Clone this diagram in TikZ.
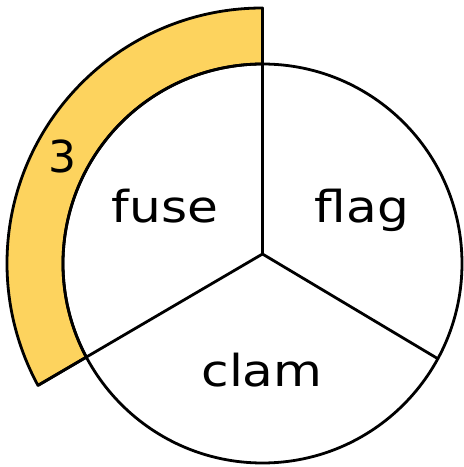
\documentclass[tikz,border=0pt]{standalone}
\usepackage{fontspec}
\setmainfont{DejaVu Sans}
\usetikzlibrary{calc}
\definecolor{bandyellow}{HTML}{FDD35E}
\begin{document}
\begin{tikzpicture}[x=1pt,y=1pt,
  edge/.style={draw=black,line width=2.8pt,line join=round},
  lbl/.style={anchor=base,inner sep=0pt,font=\fontsize{44}{44}\selectfont}]
\useasboundingbox (0,0) rectangle (464,467);
\coordinate (C) at (262.5,203.5);
\coordinate (H) at (262.5,213);
% yellow band
\path[edge,fill=bandyellow] ($(C)+(90:255.5)$) coordinate (btop)
  arc[start angle=90,end angle=208.5,radius=255.5] coordinate (bend)
  -- ($(C)+(208.0:199.5)$)
  arc[start angle=208.0,end angle=90,radius=199.5] -- cycle;
% circle
\draw[edge] (C) circle[radius=199.5];
\coordinate (rend) at ($(C)+(-28.5:199.5)$);
% spokes
\draw[edge] (H) -- (btop);
\draw[edge] (H) -- (bend);
\draw[edge] (H) -- (rend);
% labels
\node[lbl] (fuse) at (165,244) {\scalebox{1.14}[1]{fuse}};
\node[lbl] (flag) at (362,244) {\scalebox{1.14}[1]{flag}};
\node[lbl] (clam) at (262,80) {\scalebox{1.14}[1]{clam}};
\node[lbl,font=\fontsize{44}{44}\selectfont] (three) at (62,294) {3};
\end{tikzpicture}
\end{document}
